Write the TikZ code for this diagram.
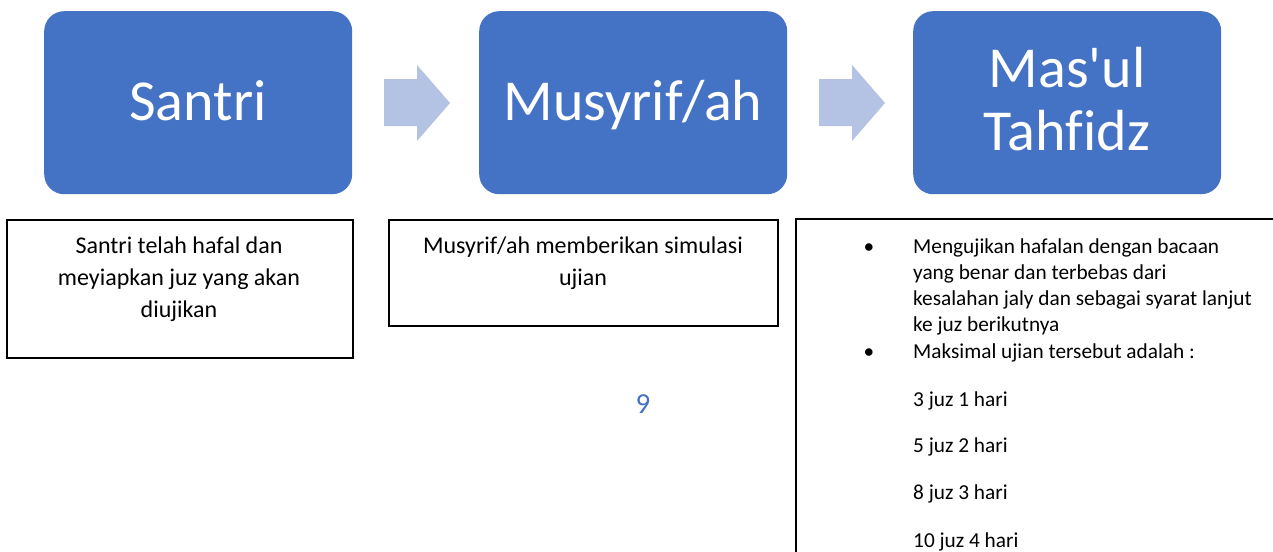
\documentclass[tikz,border=0pt]{standalone}
\usepackage{fontspec}
\setmainfont{Carlito}[Ligatures={TeXOff,NoCommon}]
\definecolor{blueA}{HTML}{4472C4}
\definecolor{arrowc}{HTML}{B4C2E3}
\tikzset{
  bluebox/.style={fill=blueA, rounded corners=20pt, minimum width=308pt, minimum height=183pt, inner sep=0pt, anchor=north west},
  bigtext/.style={text=white, font=\fontsize{58}{63}\selectfont, anchor=base, inner sep=0pt},
  textbox/.style={draw=black, line width=1.5pt, fill=white, anchor=north west, inner sep=0pt},
  midtext/.style={font=\fontsize{24}{32}\selectfont, anchor=base, inner sep=0pt},
  smalltext/.style={font=\fontsize{21.3}{26}\selectfont, anchor=base west, inner sep=0pt},
  blockarrow/.style={fill=arrowc},
}
\begin{document}
\begin{tikzpicture}[x=1pt,y=-1pt]
\useasboundingbox (0,0) rectangle (1273,551);
\fill[white] (0,0) rectangle (1273,551);

% blue boxes
\node[bluebox] (b1) at (44,11) {};
\node[bluebox] (b2) at (479,11) {};
\node[bluebox] (b3) at (913,11) {};
\node[bigtext] (t1) at (198,120) {Santri};
\node[bigtext] (t2) at (633,120) {Musyrif/ah};
\node[bigtext] (t3a) at (1067,87) {Mas'ul};
\node[bigtext] (t3b) at (1067,150) {Tahfidz};

% block arrows
\fill[blockarrow] (384,79) -- (417,79) -- (417,65) -- (450,103) -- (417,141) -- (417,126) -- (384,126) -- cycle;
\fill[blockarrow] (819,79) -- (852,79) -- (852,65) -- (885,103) -- (852,141) -- (852,126) -- (819,126) -- cycle;

% text boxes
\node[textbox, minimum width=346pt, minimum height=138pt] (x1) at (6,219) {};
\node[textbox, minimum width=389pt, minimum height=106pt] (x2) at (388,219) {};
\draw[line width=1.5pt] (796,570) -- (796,219) -- (1290,219);

\node[midtext] (x1a) at (179,253) {Santri telah hafal dan};
\node[midtext] (x1b) at (179,285) {meyiapkan juz yang akan};
\node[midtext] (x1c) at (179,317) {diujikan};

\node[midtext] (x2a) at (583,253) {Musyrif/ah memberikan simulasi};
\node[midtext] (x2b) at (583,285) {ujian};

\node[font=\fontsize{29}{32}\selectfont, text=blueA, anchor=base, inner sep=0pt] (pg) at (643,413) {9};

% right box list
\node[smalltext, anchor=base] (bu1) at (869,253) {•};
\node[smalltext] (r1) at (913,253) {Mengujikan hafalan dengan bacaan};
\node[smalltext] (r2) at (913,279) {yang benar dan terbebas dari};
\node[smalltext] (r3) at (913,305) {kesalahan jaly dan sebagai syarat lanjut};
\node[smalltext] (r4) at (913,331) {ke juz berikutnya};
\node[smalltext, anchor=base] (bu2) at (869,358) {•};
\node[smalltext] (r5) at (913,358) {Maksimal ujian tersebut adalah :};
\node[smalltext] (r6) at (913,406) {3 juz 1 hari};
\node[smalltext] (r7) at (913,452) {5 juz 2 hari};
\node[smalltext] (r8) at (913,499) {8 juz 3 hari};
\node[smalltext] (r9) at (913,547) {10 juz 4 hari};
\end{tikzpicture}
\end{document}
